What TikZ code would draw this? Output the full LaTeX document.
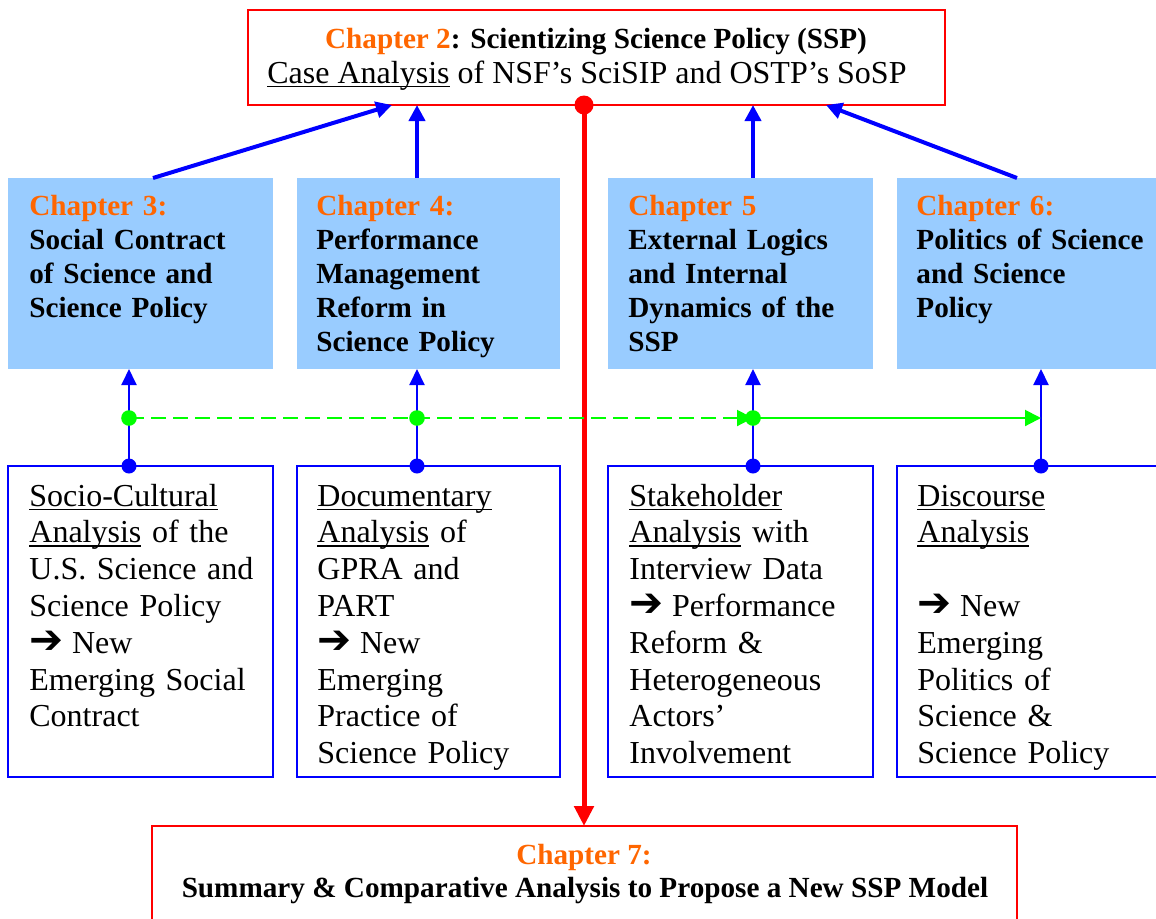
\documentclass[tikz,border=0pt]{standalone}
\usepackage{fontspec}
\setmainfont{Liberation Serif}
\newfontfamily\arrowfont{DejaVu Sans}
\usetikzlibrary{arrows.meta}
\definecolor{chorange}{HTML}{FF6600}
\definecolor{chblue}{HTML}{99CCFF}
\definecolor{pblue}{HTML}{0000FF}
\definecolor{pgreen}{HTML}{00FF00}
\definecolor{pred}{HTML}{FF0000}
\newcommand{\myul}[1]{\leavevmode\setbox0\hbox{#1}\rlap{\rule[-2.1pt]{\wd0}{0.85pt}}\box0\relax}
\newcommand{\rarr}{\resizebox{17pt}{!}{\arrowfont\bfseries ➔}\hspace{-1pt}}
\begin{document}
\begin{tikzpicture}[x=0.5pt,y=-0.5pt,
  redbox/.style={draw=pred, line width=1pt, anchor=north west, inner sep=0pt, outer sep=0pt},
  bluebox/.style={fill=chblue, anchor=north west, inner sep=0pt, outer sep=0pt, minimum height=95.5pt},
  whitebox/.style={draw=pblue, fill=white, line width=1pt, anchor=north west, inner sep=0pt, outer sep=0pt, minimum height=155.5pt},
  body/.style={anchor=base west, inner sep=0pt, align=left, text width=130pt, font=\fontsize{16}{18.4}\selectfont},
  head/.style={anchor=base west, inner sep=0pt, align=left, text width=130pt, font=\fontsize{14.6}{17}\selectfont\bfseries},
  bigarrow/.style={draw=pblue, line width=2pt, -{Triangle[length=8pt,width=8pt]}},
  thinarrow/.style={draw=pblue, line width=1pt, -{Triangle[length=8pt,width=7.5pt]}},
  redarrow/.style={draw=pred, line width=2.5pt, -{Triangle[length=10pt,width=9.5pt]}},
  gdash/.style={draw=pgreen, line width=1pt, dash pattern=on 7.5pt off 3.5pt, -{Triangle[length=8pt,width=8pt]}},
  gsolid/.style={draw=pgreen, line width=1pt, -{Triangle[length=8pt,width=8pt]}}
]
\useasboundingbox (0,0) rectangle (1156,918);
\clip (0,0) rectangle (1156,918);

% boxes
\node[redbox, minimum width=348.5pt, minimum height=47.5pt] (ch2) at (248,10) {};
\node[redbox, minimum width=432.5pt, minimum height=60pt] (ch7) at (152,826) {};
\node[bluebox, minimum width=132.5pt] (b3) at (8,178) {};
\node[bluebox, minimum width=131.5pt] (b4) at (297,178) {};
\node[bluebox, minimum width=132.5pt] (b5) at (608,178) {};
\node[bluebox, minimum width=140pt] (b6) at (897,178) {};
\node[whitebox, minimum width=132.5pt] (w1) at (8,466) {};
\node[whitebox, minimum width=131.5pt] (w2) at (297,466) {};
\node[whitebox, minimum width=132.5pt] (w3) at (608,466) {};
\node[whitebox, minimum width=140pt] (w4) at (897,466) {};

% thick blue arrows to chapter 2
\draw[bigarrow] (b3.north -| 153,0) -- (ch2.south -| 392,0);
\draw[bigarrow] (b4.north -| 417,0) -- (ch2.south -| 417,0);
\draw[bigarrow] (b5.north -| 753,0) -- (ch2.south -| 753,0);
\draw[bigarrow] (b6.north -| 1017,0) -- (ch2.south -| 826,0);

% red line
\draw[redarrow] (ch2.south -| 584,0) -- (ch7.north -| 584,0);
\fill[pred] (ch2.south -| 584,0) circle (4.75pt);

% thin blue arrows
\draw[thinarrow] (w1.north -| 129,0) -- (b3.south -| 129,0);
\draw[thinarrow] (w2.north -| 417,0) -- (b4.south -| 417,0);
\draw[thinarrow] (w3.north -| 753,0) -- (b5.south -| 753,0);
\draw[thinarrow] (w4.north -| 1041,0) -- (b6.south -| 1041,0);

% green links
\coordinate (g1) at (129,418);
\coordinate (g2) at (417,418);
\coordinate (g3) at (753,418);
\coordinate (g4) at (1041,418);
\draw[gdash] (g1) -- (g3);
\draw[gsolid] (g3) -- (g4);
\fill[pgreen] (g1) circle (3.9pt);
\fill[pgreen] (g2) circle (3.9pt);
\fill[pgreen] (g3) circle (3.9pt);

% blue dots
\fill[pblue] (w1.north -| 129,0) circle (3.75pt);
\fill[pblue] (w2.north -| 417,0) circle (3.75pt);
\fill[pblue] (w3.north -| 753,0) circle (3.75pt);
\fill[pblue] (w4.north -| 1041,0) circle (3.75pt);

% texts
\node[anchor=base, inner sep=0pt, font=\fontsize{14.6}{17}\selectfont\bfseries] (ch2a) at (596,48)
  {\textcolor{chorange}{Chapter 2}: Scientizing Science Policy (SSP)};
\node[anchor=base, inner sep=0pt, font=\fontsize{16}{18.4}\selectfont] (ch2b) at (587,83)
  {\myul{Case Analysis} of NSF’s SciSIP and OSTP’s SoSP};
\node[anchor=base, inner sep=0pt, font=\fontsize{14.6}{17}\selectfont\bfseries, text=chorange] (ch7a) at (584,864) {Chapter 7:};
\node[anchor=base, inner sep=0pt, font=\fontsize{14.6}{17}\selectfont\bfseries] (ch7b) at (585,897)
  {Summary \& Comparative Analysis to Propose a New SSP Model};

\node[head] (t3) at (29,215) {\textcolor{chorange}{Chapter 3:}\\ Social Contract\\ of Science and\\ Science Policy};
\node[head] (t4) at (316,215) {\textcolor{chorange}{Chapter 4:}\\ Performance\\ Management\\ Reform in\\ Science Policy};
\node[head] (t5) at (628,215) {\textcolor{chorange}{Chapter 5}\\ External Logics\\ and Internal\\ Dynamics of the\\ SSP};
\node[head] (t6) at (916,215) {\textcolor{chorange}{Chapter 6:}\\ Politics of Science\\ and Science\\ Policy};

\node[body] (u1) at (29,506) {\myul{Socio-Cultural}\\ \myul{Analysis} of the\\ U.S. Science and\\ Science Policy\\ \rarr{} New\\ Emerging Social\\ Contract};
\node[body] (u2) at (317,506) {\myul{Documentary}\\ \myul{Analysis} of\\ GPRA and\\ PART\\ \rarr{} New\\ Emerging\\ Practice of\\ Science Policy};
\node[body] (u3) at (629,506) {\myul{Stakeholder}\\ \myul{Analysis} with\\ Interview Data\\ \rarr{} Performance\\ Reform \&\\ Heterogeneous\\ Actors’\\ Involvement};
\node[body] (u4) at (917,506) {\myul{Discourse}\\ \myul{Analysis}\\ \mbox{}\\ \rarr{} New\\ Emerging\\ Politics of\\ Science \&\\ Science Policy};
\end{tikzpicture}
\end{document}
